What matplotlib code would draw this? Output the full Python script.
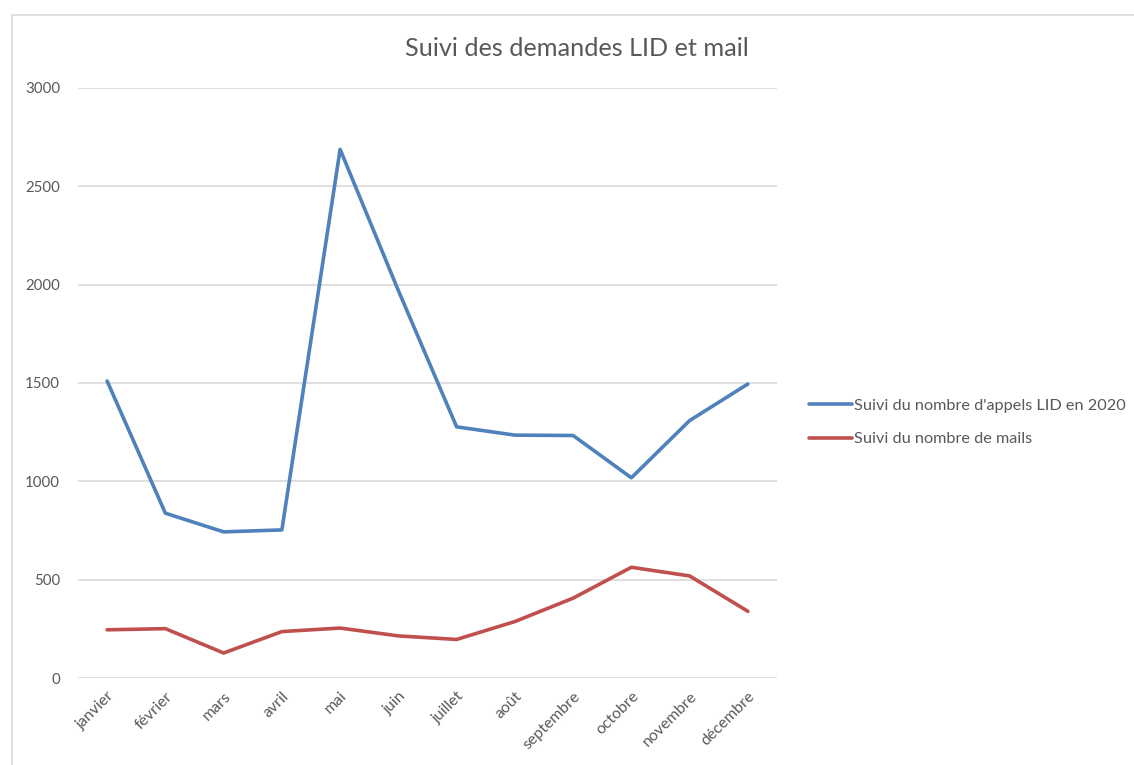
import matplotlib.pyplot as plt
from matplotlib.patches import Rectangle

months = ['janvier', 'février', 'mars', 'avril', 'mai', 'juin', 'juillet',
          'août', 'septembre', 'octobre', 'novembre', 'décembre']
appels_lid = [1510, 838, 743, 753, 2688, 1970, 1277, 1235, 1233, 1018, 1309, 1495]
mails = [245, 251, 127, 236, 254, 214, 196, 287, 406, 563, 519, 339]

plt.rcParams['font.family'] = ['Lato', 'DejaVu Sans']
txt = '#595959'

fig = plt.figure(figsize=(11.34, 7.65), dpi=100)
ax = fig.add_axes([78/1134, 87/765, 699/1134, 590/765])

# outer chart border (Excel chart area), bottom/right run off the image
fig.patches.append(Rectangle((12/1134, -0.2), 1.2, 1.2 - 15/765, transform=fig.transFigure,
                             fill=False, edgecolor='#D9D9D9', linewidth=1.2))

x = range(len(months))
ax.plot(x, appels_lid, color='#4F81BD', linewidth=2.6, solid_capstyle='round',
        label="Suivi du nombre d'appels LID en 2020")
ax.plot(x, mails, color='#C0504D', linewidth=2.6, solid_capstyle='round',
        label='Suivi du nombre de mails')

ax.set_xlim(-0.5, len(months) - 0.5)
ax.set_ylim(0, 3000)
ax.set_yticks(range(0, 3001, 500))
ax.set_xticks(list(x))
ax.set_xticklabels(months, rotation=45, ha='right', rotation_mode='anchor')
ax.tick_params(axis='x', length=0, labelsize=11.4, labelcolor=txt, pad=8)
ax.tick_params(axis='y', length=0, labelsize=10.8, labelcolor=txt, pad=13)
ax.grid(axis='y', color='#D9D9D9', linewidth=1.2)
ax.set_axisbelow(True)
for s in ax.spines.values():
    s.set_visible(False)

fig.text(577/1134, 1 - 48/765, 'Suivi des demandes LID et mail', ha='center', va='center',
         fontsize=18.2, color=txt)

ax.legend(loc='center left', bbox_to_anchor=(716/699, 0.433), frameon=False,
          fontsize=11.7, labelcolor=txt, handlelength=2.7, handletextpad=0.1,
          labelspacing=1.15)

fig.savefig('out.png', dpi=100)
